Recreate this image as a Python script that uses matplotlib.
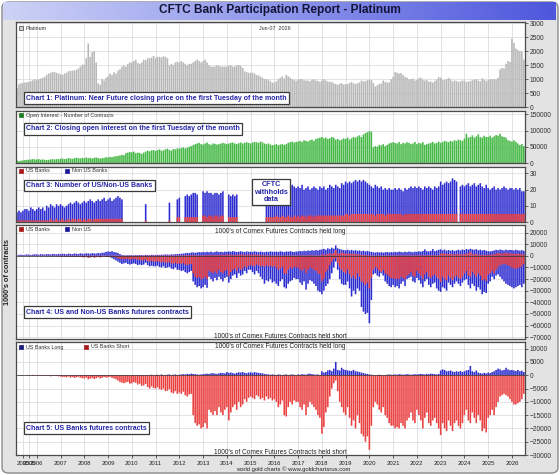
import matplotlib
matplotlib.use("Agg")
import matplotlib.pyplot as plt
import numpy as np
from matplotlib.patches import FancyBboxPatch, Rectangle
from matplotlib.colors import LinearSegmentedColormap

plt.rcParams['font.family'] = ['Liberation Sans', 'DejaVu Sans']

# one bar per month: first bar is Mar 2005, last bar is Jul 2026
first_year = 2005
first_month = 3

# Chart 1 - platinum price, one row per year
price = [
    [680, 820, 850, 870, 880, 890, 900, 930, 960, 990],
    [960, 1000, 1020, 1050, 1080, 1150, 1200, 1230, 1260, 1250, 1230, 1200],
    [1180, 1150, 1200, 1230, 1280, 1300, 1300, 1320, 1330, 1380, 1450, 1520],
    [1520, 1750, 2280, 1800, 1970, 2000, 1600, 850, 800, 1000, 950, 1050],
    [1100, 1200, 1150, 1250, 1200, 1300, 1350, 1450, 1500, 1450, 1550, 1600],
    [1600, 1650, 1700, 1580, 1550, 1600, 1700, 1680, 1750, 1750, 1780, 1830],
    [1750, 1800, 1800, 1780, 1820, 1800, 1750, 1500, 1550, 1500, 1600, 1620],
    [1600, 1650, 1600, 1550, 1500, 1550, 1550, 1600, 1650, 1700, 1650, 1600],
    [1650, 1700, 1600, 1500, 1450, 1450, 1450, 1500, 1480, 1450, 1450, 1450],
    [1450, 1480, 1500, 1450, 1450, 1500, 1500, 1480, 1400, 1280, 1250, 1230],
    [1230, 1230, 1200, 1150, 1130, 1100, 1050, 1000, 1000, 980, 920, 880],
    [880, 920, 1000, 1050, 1100, 1020, 1150, 1100, 1050, 1000, 980, 940],
    [980, 1000, 1000, 960, 950, 950, 930, 980, 1000, 950, 940, 900],
    [950, 1000, 950, 920, 900, 900, 850, 830, 800, 830, 860, 800],
    [820, 830, 860, 900, 850, 820, 860, 880, 950, 920, 930, 960],
    [980, 970, 860, 740, 780, 830, 840, 950, 900, 880, 880, 1000],
    [1080, 1250, 1230, 1200, 1220, 1150, 1080, 1050, 990, 1000, 1020, 950],
    [970, 1030, 1050, 980, 950, 980, 900, 920, 880, 930, 990, 1070],
    [1050, 970, 960, 1000, 1050, 1000, 920, 950, 930, 900, 920, 950],
    [950, 900, 910, 930, 960, 980, 1000, 950, 920, 1030, 980, 940],
    [960, 1000, 990, 1000, 990, 1050, 1350, 1400, 1380, 1550, 1650, 1620],
    [2450, 2300, 2100, 2050, 2000, 2000, 1700],
]

# Chart 2 - open interest, thousands of contracts
oi_k = [
    [8, 6, 7, 8, 9, 10, 10, 11, 12, 11],
    [11, 12, 10, 11, 10, 9, 10, 11, 12, 11, 12, 12],
    [13, 14, 12, 13, 15, 14, 13, 15, 16, 15, 14, 16],
    [15, 17, 15, 16, 14, 16, 17, 15, 14, 15, 16, 18],
    [17, 19, 18, 20, 21, 22, 23, 25, 24, 30, 32, 34],
    [33, 35, 30, 32, 31, 28, 32, 35, 38, 36, 39, 40],
    [37, 40, 42, 38, 39, 42, 44, 40, 38, 43, 42, 45],
    [44, 46, 48, 45, 47, 50, 52, 55, 58, 60, 62, 58],
    [57, 60, 63, 58, 56, 60, 59, 57, 58, 60, 62, 60],
    [58, 60, 62, 63, 60, 58, 61, 63, 60, 62, 64, 62],
    [60, 63, 65, 64, 62, 66, 64, 60, 58, 60, 57, 55],
    [56, 58, 55, 57, 58, 56, 58, 62, 64, 66, 63, 65],
    [66, 68, 65, 70, 68, 66, 70, 72, 68, 74, 76, 78],
    [80, 76, 78, 74, 76, 80, 78, 72, 74, 70, 72, 76],
    [74, 78, 72, 76, 80, 78, 82, 85, 80, 88, 92, 95],
    [98, 96, 48, 52, 50, 56, 54, 58, 52, 56, 60, 62],
    [64, 62, 60, 65, 58, 62, 60, 64, 62, 58, 60, 65],
    [58, 62, 60, 64, 56, 58, 60, 62, 65, 60, 62, 66],
    [62, 65, 68, 66, 64, 68, 66, 70, 68, 72, 70, 68],
    [75, 90, 78, 80, 85, 78, 82, 88, 80, 78, 84, 80],
    [80, 84, 78, 82, 86, 84, 90, 82, 80, 78, 70, 68],
    [66, 70, 65, 60, 55, 58, 52],
]

N = None
# Chart 3 - number of banks (all banks and US banks), None = withheld
all_banks = [
    [6, 7, 6, 7, 8, 8, 7, 9, 8, 7],
    [8, 9, 8, 9, 7, 10, 9, 11, 10, 9, 11, 10],
    [11, 10, 9, 10, 11, 12, 11, 12, 13, 12, 11, 12],
    [13, 12, 13, 14, 13, 12, 13, 14, 13, 14, 15, 13],
    [14, 15, 13, 14, 15, 16, 15, 14, N, N, N, N],
    [N, N, N, N, N, N, N, 11, N, N, N, N],
    [N, N, N, N, N, N, N, 12, N, N, N, 14],
    [15, N, N, 16, 17, 16, 17, 18, 18, 17, N, N],
    [19, 18, 19, 18, 18, 17, 18, 18, 17, 18, 19, N],
    [N, 17, 16, 17, 16, 17, N, N, N, N, N, N],
    [N, N, N, N, N, N, N, N, 21, 22, 21, 23],
    [22, 21, 23, 22, 21, 22, 23, 21, 22, 23, 22, 21],
    [22, 21, 23, 20, 21, 22, 20, 21, 22, 21, 20, 22],
    [21, 22, 20, 21, 23, 22, 21, 23, 22, 21, 24, 23],
    [25, 24, 25, 24, 25, 26, 25, 26, 25, 26, 25, 24],
    [23, 22, 21, 23, 22, 21, 22, 20, 21, 20, 21, 20],
    [20, 21, 20, 21, 20, 19, 21, 20, 21, 22, 21, 22],
    [21, 22, 21, 20, 22, 21, 22, 21, 20, 22, 21, 22],
    [25, 23, 24, 25, 24, 25, 27, 26, 25, N, 22, 23],
    [22, 23, 24, 22, 23, 24, 22, 23, 24, 22, 21, 23],
    [21, 20, 21, 22, 20, 21, 20, 21, 22, 21, 20, 21],
    [21, 20, 21, 20, 21, 19, 19],
]
us_banks = [
    [1, 1, 1, 1, 1, 1, 1, 1, 1, 1],
    [1, 1, 1, 1, 1, 1, 1, 2, 1, 1, 2, 1],
    [1, 2, 1, 1, 2, 1, 2, 2, 1, 2, 2, 1],
    [2, 1, 2, 2, 1, 2, 2, 2, 2, 2, 2, 2],
    [2, 2, 2, 2, 2, 2, 2, 2, N, N, N, N],
    [N, N, N, N, N, N, N, 1, N, N, N, N],
    [N, N, N, N, N, N, N, 1, N, N, N, 3],
    [3, N, N, 3, 3, 3, 3, 3, 3, 3, N, N],
    [4, 4, 3, 4, 4, 3, 4, 4, 3, 4, 4, N],
    [N, 3, 3, 3, 3, 3, N, N, N, N, N, N],
    [N, N, N, N, N, N, N, N, 3, 3, 3, 3],
    [3, 4, 3, 3, 4, 3, 3, 4, 3, 3, 4, 3],
    [4, 3, 4, 4, 3, 4, 4, 4, 3, 4, 4, 4],
    [4, 4, 4, 4, 4, 4, 4, 4, 4, 4, 4, 4],
    [5, 5, 4, 5, 5, 5, 5, 5, 5, 5, 5, 5],
    [5, 5, 5, 4, 5, 5, 5, 5, 4, 5, 5, 5],
    [5, 5, 5, 5, 5, 4, 5, 5, 5, 5, 5, 5],
    [5, 5, 5, 5, 5, 5, 5, 5, 5, 5, 5, 5],
    [5, 5, 5, 5, 5, 5, 5, 5, 5, N, 5, 5],
    [5, 5, 5, 5, 5, 5, 5, 5, 5, 5, 5, 5],
    [5, 5, 5, 5, 5, 5, 5, 5, 5, 5, 5, 5],
    [5, 5, 5, 5, 5, 5, 5],
]

# Charts 4/5 - contracts, US banks long / short
us_long = [
    [0, 0, 100, 0, 0, 100, 0, 0, 100, 0],
    [0, 100, 0, 0, 100, 0, 0, 100, 0, 0, 100, 0],
    [100, 0, 0, 100, 0, 0, 100, 0, 0, 0, 100, 0],
    [0, 100, 0, 0, 0, 100, 0, 0, 100, 0, 0, 0],
    [0, 0, 100, 0, 0, 0, 0, 0, 0, 0, 0, 0],
    [0, 0, 0, 100, 0, 0, 0, 0, 100, 0, 200, 0],
    [100, 200, 0, 300, 100, 0, 200, 300, 100, 200, 300, 100],
    [200, 300, 400, 300, 500, 400, 600, 500, 400, 300, 200, 300],
    [400, 500, 600, 500, 700, 800, 600, 500, 700, 900, 800, 700],
    [1200, 900, 1000, 800, 600, 900, 1100, 1000, 1200, 900, 800, 1000],
    [1100, 900, 1200, 1000, 900, 800, 700, 500, 400, 300, 200, 300],
    [200, 100, 300, 200, 100, 200, 300, 100, 200, 300, 200, 100],
    [300, 200, 400, 300, 200, 500, 600, 400, 300, 200, 300, 100],
    [1500, 1000, 1200, 1800, 2000, 1500, 2500, 5000, 2000, 1800, 2800, 2200],
    [2000, 1800, 1700, 1600, 2000, 1500, 1400, 1200, 1000, 800, 600, 500],
    [300, 200, 100, 0, 100, 200, 100, 0, 100, 200, 300, 200],
    [200, 300, 200, 400, 300, 200, 300, 400, 300, 200, 300, 400],
    [300, 400, 500, 400, 300, 500, 400, 600, 500, 400, 300, 500],
    [1800, 2200, 2000, 1500, 1600, 1800, 1400, 1200, 1500, 1300, 1600, 1200],
    [1500, 1800, 2000, 3500, 1500, 1200, 1800, 1000, 800, 600, 900, 700],
    [1000, 800, 1200, 1500, 2000, 2500, 2200, 1800, 2000, 2800, 2200, 1900],
    [2000, 1800, 1600, 2000, 1500, 1700, 1200],
]
us_short = [
    [0, 0, -100, -100, 0, -100, -200, -100, -200, -100],
    [-200, -100, -300, -200, -100, -300, -200, -400, -300, -200, -300, -400],
    [-500, -700, -600, -800, -500, -900, -700, -1000, -800, -600, -900, -1100],
    [-1200, -900, -1500, -1300, -1000, -1400, -1100, -800, -1200, -1000, -700, -900],
    [-800, -600, -1000, -1200, -1500, -2000, -2500, -2800, -3000, -2700, -2500, -3200],
    [-3000, -2600, -2800, -3500, -3200, -4000, -3800, -3300, -4500, -5000, -4200, -4800],
    [-5000, -4500, -5200, -5500, -5000, -6000, -5800, -5200, -6500, -6800, -6000, -7000],
    [-6500, -7000, -6200, -7500, -8000, -7200, -7000, -15000, -18000, -19000, -18500, -20000],
    [-19500, -18000, -20000, -13000, -14000, -15000, -13500, -15000, -12000, -14000, -15000, -13000],
    [-12000, -17000, -14000, -12000, -11000, -13000, -10000, -12000, -11000, -9000, -10000, -8500],
    [-8000, -8500, -9000, -7500, -8000, -9000, -8500, -9500, -8000, -9000, -8500, -9500],
    [-9000, -10000, -12000, -11000, -9500, -15000, -15500, -12000, -10000, -11000, -9500, -10000],
    [-10000, -12000, -13000, -11000, -15000, -12000, -10000, -11000, -12000, -13000, -15000, -16000],
    [-22000, -19500, -14000, -12000, -8000, -5000, -3000, -2000, -6000, -10000, -12000, -14000],
    [-15000, -12000, -16000, -19000, -17000, -20000, -15000, -18000, -22000, -23000, -25000, -23000],
    [-28000, -19000, -12000, -10000, -11000, -13000, -14000, -12000, -15000, -16000, -18000, -19000],
    [-19000, -20000, -19500, -20000, -18000, -19000, -20000, -17000, -16000, -14000, -17000, -18000],
    [-13000, -15000, -17000, -20000, -16000, -14000, -18000, -19000, -17000, -16000, -18000, -20000],
    [-22500, -18000, -20000, -21000, -17000, -19000, -21000, -18000, -17000, -19000, -20000, -18000],
    [-15000, -13000, -17000, -18000, -14000, -16000, -18000, -15000, -17000, -21000, -20000, -21500],
    [-16000, -15000, -13000, -15000, -12000, -10000, -8000, -7500, -7000, -7500, -8000, -9000],
    [-10000, -11000, -11000, -10500, -10000, -9000, -7000],
]
# Chart 4 - all banks (US + non-US) long / short
all_long = [
    [500, 800, 1000, 700, 900, 1200, 1000, 800, 1100, 1300],
    [1200, 1000, 1400, 1300, 1100, 1500, 1400, 1200, 1600, 1500, 1300, 1700],
    [1500, 1800, 1600, 1400, 1900, 1700, 1500, 2000, 1800, 1600, 2100, 1900],
    [1700, 2200, 2000, 1800, 2300, 2100, 1900, 2400, 2200, 2600, 2800, 3400],
    [3800, 3500, 4000, 3300, 3000, 2500, 1500, 800, 500, 400, 500, 600],
    [500, 400, 600, 500, 700, 600, 500, 800, 700, 600, 900, 800],
    [700, 900, 800, 1000, 900, 1200, 1100, 1000, 1300, 1200, 1400, 1500],
    [1600, 1800, 2000, 2200, 2500, 2300, 2800, 3000, 2600, 2900, 3200, 3000],
    [3300, 3100, 3500, 3200, 3600, 3000, 3400, 3800, 3300, 3500, 3200, 3600],
    [3400, 3800, 3500, 4000, 3700, 3300, 3600, 3900, 3500, 3200, 3800, 3400],
    [3600, 3300, 3900, 3500, 3200, 3700, 3400, 3100, 3600, 3300, 3800, 3500],
    [3400, 3700, 3300, 3900, 3600, 3200, 3800, 3500, 4000, 3600, 3300, 3700],
    [3800, 4200, 3900, 4400, 4000, 4600, 4300, 4800, 4500, 5000, 4600, 5200],
    [5500, 6000, 5200, 6500, 5800, 7000, 6200, 9000, 6500, 5800, 5300, 5000],
    [4800, 5200, 4600, 5000, 4500, 4800, 4300, 4600, 4000, 4400, 3800, 4200],
    [3800, 3300, 3000, 2800, 3200, 2900, 3100, 2700, 3000, 3300, 2900, 3200],
    [3000, 3400, 3100, 3600, 3300, 3000, 3500, 3200, 3700, 3400, 3100, 3600],
    [3500, 3900, 3600, 4200, 5500, 4000, 3800, 4300, 5800, 4100, 4600, 5200],
    [5600, 4800, 5300, 4500, 5000, 4400, 4900, 4200, 4700, 5200, 4600, 5500],
    [5000, 5800, 5400, 6000, 5500, 5200, 5700, 4800, 5300, 4600, 5000, 4400],
    [4000, 3800, 4200, 4600, 5200, 4800, 5400, 5000, 4700, 5300, 4900, 5100],
    [5000, 4600, 5200, 4800, 4500, 4900, 4300],
]
all_short = [
    [0, 0, -100, -100, 0, -100, -200, -100, -200, -100],
    [-200, -100, -300, -200, -100, -300, -200, -400, -300, -200, -300, -400],
    [-500, -700, -600, -800, -500, -900, -700, -1000, -800, -600, -900, -1100],
    [-1200, -900, -1500, -1300, -1000, -1400, -1100, -800, -1200, -1000, -700, -900],
    [-1000, -1200, -2000, -3000, -4000, -5000, -6000, -7000, -6500, -6000, -7000, -7500],
    [-7000, -6500, -7000, -8000, -7500, -8000, -7500, -6000, -8000, -9000, -8500, -9000],
    [-9000, -8500, -9500, -10000, -9000, -10500, -10000, -9500, -11000, -11500, -10000, -12000],
    [-12000, -13000, -12500, -14000, -15000, -14000, -13000, -22000, -25000, -27000, -26000, -28000],
    [-27000, -25000, -27500, -18000, -20000, -22000, -19000, -21000, -18000, -20000, -22000, -19000],
    [-18000, -23000, -20000, -17000, -16000, -19000, -15000, -17000, -16000, -13000, -15000, -12000],
    [-12000, -14000, -16000, -13000, -15000, -18000, -20000, -24000, -21000, -22000, -20000, -23000],
    [-22000, -24000, -26000, -22000, -20000, -27000, -28000, -24000, -22000, -21000, -19000, -20000],
    [-20000, -23000, -25000, -22000, -29000, -24000, -21000, -22000, -24000, -26000, -30000, -31000],
    [-33000, -30000, -26000, -24000, -20000, -15000, -10000, -5000, -12000, -20000, -24000, -25000],
    [-25000, -22000, -28000, -35000, -30000, -33000, -28000, -30000, -44000, -48000, -50000, -49000],
    [-58000, -38000, -16000, -15000, -17000, -18000, -15000, -17000, -22000, -24000, -26000, -27000],
    [-25000, -27000, -26000, -28000, -24000, -22000, -26000, -20000, -19000, -18000, -22000, -23000],
    [-19000, -21000, -24000, -27000, -22000, -20000, -25000, -27000, -24000, -23000, -28000, -30000],
    [-31000, -27000, -28000, -30000, -23000, -25000, -27000, -24000, -22000, -24000, -26000, -23000],
    [-21000, -20000, -25000, -28000, -24000, -26000, -30000, -27000, -29000, -33000, -31000, -32000],
    [-24000, -22000, -18000, -20000, -17000, -16000, -18000, -20000, -22000, -24000, -25000, -26000],
    [-27000, -28000, -27000, -26000, -25000, -27000, -24000],
]

years = list(range(2006, 2027))
# the two crowded "2005" labels at the left end of the axis
early_ticks = [3, 6]


def flat(rows):
    out = []
    for r in rows:
        out.extend(r)
    return out


price_m = flat(price)
oi_m = [v * 1000 for v in flat(oi_k)]
all_banks_m = flat(all_banks)
us_banks_m = flat(us_banks)
us_long_m = flat(us_long)
us_short_m = flat(us_short)
all_long_m = flat(all_long)
all_short_m = flat(all_short)

n = len(price_m)
x = np.arange(n)

tick_pos = early_ticks + [(y - first_year) * 12 - (first_month - 1) for y in years]
tick_lab = ['2005', '2005'] + [str(y) for y in years]

W, H = 560, 475
fig = plt.figure(figsize=(W / 100, H / 100), dpi=100)
fig.patch.set_facecolor('white')


def fx(px):
    return px / W


def fy(py):
    return 1 - py / H


# grey rounded background, kept under the axes
bg = FancyBboxPatch((fx(2), fy(473)), fx(556), (471) / H,
                    boxstyle="round,pad=0,rounding_size=0.012",
                    transform=fig.transFigure, fc='#e3e3e3', ec='#8a8a8a', lw=1.0,
                    zorder=-10)
fig.patches.append(bg)

# title bar with gradient
ax_t = fig.add_axes([fx(3), fy(20), fx(553), 18 / H])
grad = np.linspace(0, 1, 256).reshape(1, -1)
cmap = LinearSegmentedColormap.from_list('tb', ['#cdd2f6', '#8e96ec', '#4e57dc'])
ax_t.imshow(grad, aspect='auto', cmap=cmap, extent=[0, 1, 0, 1])
ax_t.set_axis_off()
fig.text(fx(280), fy(10.5), 'CFTC Bank Participation Report - Platinum',
         ha='center', va='center', fontsize=8.6, fontweight='bold', color='#15153a')

LEFT, RIGHT = 16, 525
RED = '#ea4040'
BLUE = '#2c2cd0'
BW = 0.8


def bars(ax, xs, vals, color):
    # snap off so that every thin bar is drawn the same way
    ax.bar(xs, vals, width=BW, color=color, lw=0, snap=False)


def panel(top, bottom):
    ax = fig.add_axes([fx(LEFT), fy(bottom), fx(RIGHT - LEFT), (bottom - top) / H])
    ax.set_facecolor('white')
    ax.set_xlim(-0.5, n - 0.4)
    ax.yaxis.tick_right()
    ax.set_xticks(tick_pos)
    ax.tick_params(axis='x', length=0, labelbottom=False)
    ax.tick_params(axis='y', labelsize=4.8, length=2, width=0.5, pad=1.2,
                   colors='#303030')
    ax.grid(True, color='#d6d6de', lw=0.5)
    ax.set_axisbelow(True)
    for s in ax.spines.values():
        s.set_color('#4a4a4a')
        s.set_linewidth(0.9)
    return ax


def title_box(px, py, txt):
    fig.text(fx(px), fy(py), txt, ha='left', va='center', fontsize=5.0,
             fontweight='bold', color='#2626a6',
             bbox=dict(boxstyle='square,pad=0.35', fc='white', ec='#3a3a3a', lw=0.9))


def legend_item(px, py, color, txt, hollow=False):
    fc = '#d0d0d0' if hollow else color
    fig.patches.append(Rectangle((fx(px - 2), fy(py + 2)), 4 / W, 4 / H,
                                 transform=fig.transFigure, fc=fc, ec=color, lw=0.5,
                                 zorder=5))
    fig.text(fx(px + 5), fy(py), txt, ha='left', va='center', fontsize=3.9,
             color='#333333')


# Chart 1
ax1 = panel(22, 107)
bars(ax1, x, price_m, '#b8b8b8')
ax1.set_ylim(0, 3050)
ax1.set_yticks(range(0, 3001, 500))
legend_item(21, 28, '#404040', 'Platinum', hollow=True)
fig.text(fx(275), fy(28), 'Jun-07  2026', ha='center', va='center',
         fontsize=3.9, color='#333333')
title_box(26, 98, 'Chart 1: Platinum: Near Future closing price on the first Tuesday of the month')

# Chart 2
ax2 = panel(111, 163)
bars(ax2, x, oi_m, '#45b845')
ax2.set_ylim(0, 160000)
ax2.set_yticks([0, 50000, 100000, 150000])
legend_item(21, 115, '#1e7a1e', 'Open Interest - Number of Contracts')
title_box(26, 129, 'Chart 2: Closing open interest on the first Tuesday of the month')

# Chart 3
ax3 = panel(167, 222)
idx3 = [i for i in range(n) if all_banks_m[i] is not None]
bars(ax3, idx3, [all_banks_m[i] for i in idx3], BLUE)
bars(ax3, idx3, [us_banks_m[i] for i in idx3], RED)
ax3.set_ylim(0, 34)
ax3.set_yticks([0, 10, 20, 30])
legend_item(21, 171, '#a81818', 'US Banks')
legend_item(67, 171, '#1a1a9a', 'Non US Banks')
title_box(26, 185.5, 'Chart 3: Number of US/Non-US Banks')
fig.text(fx(271), fy(192), 'CFTC\nwithholds\ndata', ha='center', va='center',
         fontsize=5.2, fontweight='bold', color='#2626a6', linespacing=1.05,
         bbox=dict(boxstyle='square,pad=0.3', fc='white', ec='#3a3a3a', lw=0.9))

# Chart 4
ax4 = panel(225, 339)
bars(ax4, x, all_long_m, BLUE)
bars(ax4, x, us_long_m, RED)
bars(ax4, x, all_short_m, BLUE)
bars(ax4, x, us_short_m, RED)
ax4.axhline(0, color='#303030', lw=0.5)
ax4.set_ylim(-71500, 26500)
ax4.set_yticks(range(-70000, 20001, 10000))
legend_item(21, 229, '#a81818', 'US Banks')
legend_item(67, 229, '#1a1a9a', 'Non US')
fig.text(fx(280), fy(231), "1000's of Comex Futures Contracts held long",
         ha='center', va='center', fontsize=4.7, color='#222222')
fig.text(fx(280), fy(336), "1000's of Comex Futures Contracts held short",
         ha='center', va='center', fontsize=4.7, color='#222222')
title_box(26, 312, 'Chart 4: US and Non-US Banks futures contracts')

# Chart 5
ax5 = panel(342, 455)
bars(ax5, x, us_long_m, BLUE)
bars(ax5, x, us_short_m, RED)
ax5.axhline(0, color='#303030', lw=0.5)
ax5.set_ylim(-30000, 12500)
ax5.set_yticks(range(-30000, 10001, 5000))
ax5.set_xticklabels(tick_lab)
ax5.tick_params(axis='x', length=2.5, width=0.5, labelbottom=True,
                labelsize=4.3, pad=1.5, colors='#222222')
legend_item(21, 347, '#1a1a7a', 'US Banks Long')
legend_item(86, 347, '#a81818', 'US Banks Short')
fig.text(fx(280), fy(346), "1000's of Comex Futures Contracts held long",
         ha='center', va='center', fontsize=4.7, color='#222222')
fig.text(fx(280), fy(452), "1000's of Comex Futures Contracts held short",
         ha='center', va='center', fontsize=4.7, color='#222222')
title_box(26, 428, 'Chart 5: US Banks futures contracts')

fig.text(fx(8), fy(272), "1000's of contracts", rotation=90, ha='center',
         va='center', fontsize=5.3, fontweight='bold', color='#222222')
fig.text(fx(293), fy(469), 'world gold charts \u00a9 www.goldchartsrus.com',
         ha='center', va='center', fontsize=4.2, color='#222222')

fig.savefig('out.png', dpi=100, facecolor=fig.get_facecolor())
